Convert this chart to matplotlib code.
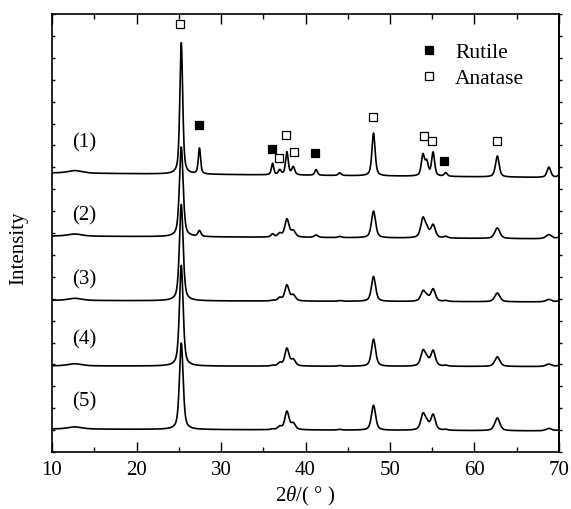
import numpy as np
import matplotlib
matplotlib.use("Agg")
import matplotlib.pyplot as plt
from matplotlib.lines import Line2D
from matplotlib.ticker import MultipleLocator

plt.rcParams['font.family'] = ['Liberation Serif', 'DejaVu Serif']
plt.rcParams['mathtext.fontset'] = 'custom'
plt.rcParams['mathtext.rm'] = 'Liberation Serif'
plt.rcParams['mathtext.it'] = 'Liberation Serif:italic'

# ---- data ----
sample_labels = ['(1)', '(2)', '(3)', '(4)', '(5)']
# baseline level (a.u.) at 10 deg and at 70 deg for each pattern
base_left = [12.74, 9.86, 6.92, 3.93, 1.05]
base_right = [12.53, 9.73, 6.85, 3.90, 0.96]

peak_pos = [12.7, 25.3, 27.45, 36.1, 36.95, 37.8, 38.55, 41.25, 44.05,
            48.05, 53.9, 54.35, 55.1, 56.6, 62.7, 68.8, 70.3]
heights_1 = [0.12, 6.00, 1.18, 0.52, 0.22, 1.05, 0.36, 0.26, 0.12,
             1.95, 0.95, 0.60, 1.08, 0.16, 0.96, 0.47, 0.35]
heights_2 = [0.10, 4.10, 0.26, 0.14, 0.16, 0.82, 0.28, 0.11, 0.05,
             1.22, 0.85, 0.32, 0.58, 0.07, 0.48, 0.19, 0.15]
heights_3 = [0.10, 4.40, 0.00, 0.03, 0.14, 0.72, 0.26, 0.00, 0.03,
             1.14, 0.44, 0.18, 0.56, 0.04, 0.40, 0.11, 0.10]
heights_4 = [0.10, 4.60, 0.00, 0.03, 0.14, 0.80, 0.28, 0.00, 0.03,
             1.24, 0.66, 0.28, 0.70, 0.04, 0.44, 0.11, 0.10]
heights_5 = [0.10, 3.95, 0.00, 0.03, 0.14, 0.83, 0.28, 0.00, 0.03,
             1.14, 0.70, 0.28, 0.70, 0.04, 0.58, 0.11, 0.10]
fwhm_1 = [2.0, 0.40, 0.32, 0.32, 0.38, 0.38, 0.42, 0.38, 0.42,
          0.45, 0.45, 0.42, 0.42, 0.42, 0.52, 0.52, 0.52]
fwhm_n = [2.0, 0.52, 0.42, 0.42, 0.52, 0.58, 0.62, 0.52, 0.52,
          0.58, 0.62, 0.62, 0.62, 0.52, 0.72, 0.82, 0.72]

anatase_x = [25.15, 36.86, 37.69, 38.64, 47.99, 54.02, 54.97, 62.66]
anatase_y = [19.54, 13.42, 14.47, 13.70, 15.30, 14.43, 14.20, 14.20]
rutile_x = [27.34, 36.04, 41.12, 56.39]
rutile_y = [14.93, 13.84, 13.65, 13.29]

label_x = 13.8
label_y = [14.16, 10.82, 7.90, 5.16, 2.33]

x_ticks = [10, 20, 30, 40, 50, 60, 70]

heights = [heights_1, heights_2, heights_3, heights_4, heights_5]
fwhms = [fwhm_1, fwhm_n, fwhm_n, fwhm_n, fwhm_n]


def profile(x, pos, hts, wids, eta=0.55):
    y = np.zeros_like(x)
    for p, h, w in zip(pos, hts, wids):
        d = (x - p) / w
        lor = 1.0 / (1.0 + 4.0 * d * d)
        gau = np.exp(-4.0 * np.log(2) * d * d)
        y += h * (eta * lor + (1 - eta) * gau)
    return y


fig = plt.figure(figsize=(5.71, 5.10), dpi=100)
ax = fig.add_axes([52 / 571, 57 / 510, 507 / 571, 438 / 510])

x = np.linspace(10, 70, 3001)
for i in range(5):
    base = base_left[i] + (base_right[i] - base_left[i]) * (x - 10) / 60
    y = base + profile(x, peak_pos, heights[i], fwhms[i])
    ax.plot(x, y, color='black', lw=1.2)
    ax.text(label_x, label_y[i], sample_labels[i], fontsize=15,
            ha='center', va='center')

ax.plot(anatase_x, anatase_y, ls='none', marker='s', ms=5.5,
        mfc='white', mec='black', mew=0.9)
ax.plot(rutile_x, rutile_y, ls='none', marker='s', ms=5.5,
        mfc='black', mec='black', mew=0.9)

handles = [Line2D([], [], ls='none', marker='s', ms=5.5, mfc='black',
                  mec='black', mew=0.9),
           Line2D([], [], ls='none', marker='s', ms=5.5, mfc='white',
                  mec='black', mew=0.9)]
ax.legend(handles, ['Rutile', 'Anatase'], loc='upper left',
          bbox_to_anchor=(0.71, 0.955), frameon=False, fontsize=15.5,
          handlelength=0.8, handletextpad=0.8, labelspacing=0.28,
          borderaxespad=0)

ax.set_xlim(10, 70)
ax.set_ylim(0, 20)
ax.set_xticks(x_ticks)
ax.xaxis.set_minor_locator(MultipleLocator(5))
ax.yaxis.set_major_locator(MultipleLocator(1))
ax.set_yticklabels([])
ax.tick_params(axis='x', which='major', direction='in', length=7, width=1,
               labelsize=15, pad=6, top=True)
ax.tick_params(axis='x', which='minor', direction='in', length=3.5, width=1,
               top=True)
ax.tick_params(axis='y', which='major', direction='in', length=2.5, width=1,
               left=True, right=False)
for s in ax.spines.values():
    s.set_linewidth(1.2)

# right-hand ticks point outward in the reference
sec = ax.secondary_yaxis('right')
sec.yaxis.set_major_locator(MultipleLocator(1))
sec.tick_params(direction='out', length=2.5, width=1, labelright=False)
sec.spines['right'].set_linewidth(1.2)

fig.text(305 / 571, 1 - 496 / 510, r'2$\mathit{\theta}$/( ° )', fontsize=15,
         ha='center', va='center')
fig.text(19 / 571, 1 - 248 / 510, 'Intensity', fontsize=15, rotation=90,
         ha='center', va='center')

fig.savefig('out.png', dpi=100)
